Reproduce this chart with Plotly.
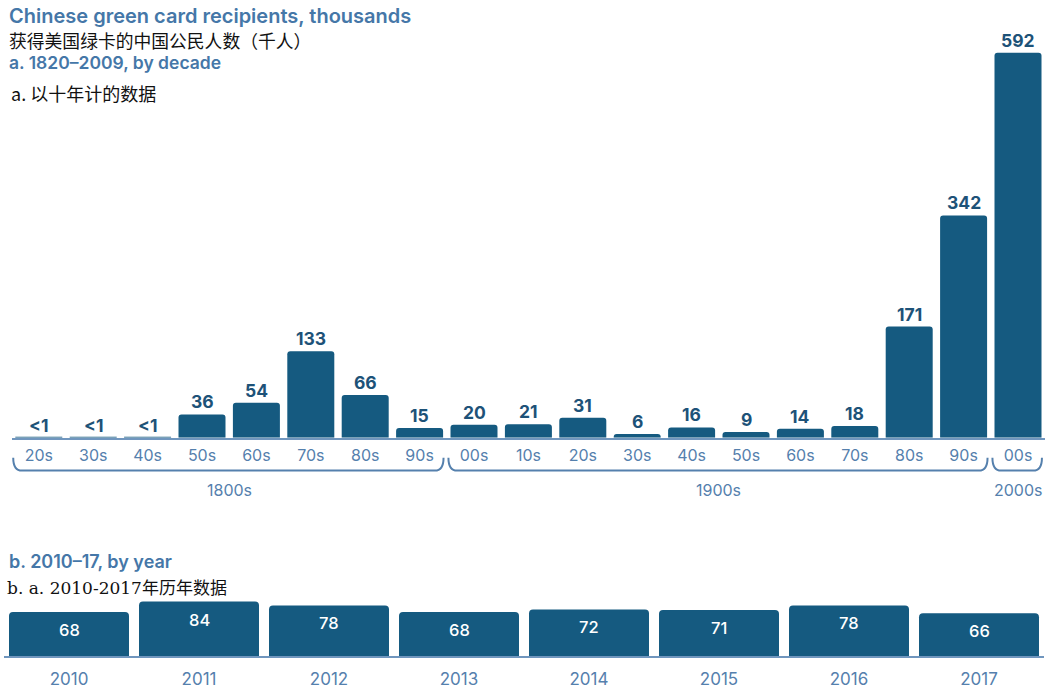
import plotly.graph_objects as go

# ---- data -------------------------------------------------------------
decades = ["20s", "30s", "40s", "50s", "60s", "70s", "80s", "90s",
           "00s", "10s", "20s", "30s", "40s", "50s", "60s", "70s", "80s", "90s",
           "00s"]
decade_values = [0.3, 0.3, 0.3, 36, 54, 133, 66, 15,
                 20, 21, 31, 6, 16, 9, 14, 18, 171, 342,
                 592]
decade_labels = ["<1", "<1", "<1", "36", "54", "133", "66", "15",
                 "20", "21", "31", "6", "16", "9", "14", "18", "171", "342",
                 "592"]
centuries = ["1800s", "1900s", "2000s"]
century_first = [0, 8, 18]
century_last = [7, 17, 18]

years = ["2010", "2011", "2012", "2013", "2014", "2015", "2016", "2017"]
year_values = [68, 84, 78, 68, 72, 71, 78, 66]

# ---- styling ----------------------------------------------------------
W, H = 1046, 689
BAR = "#155a80"
LABEL = "#1d5278"
HEAD = "#4577a8"
TICK = "#5580ad"
AXIS = "#7096be"
LATIN = "Inter, Lato, sans-serif"
CJK = "Noto Sans CJK SC"
PX_PER_UNIT = 0.655


def py(px):
    """Vertical pixel position -> paper fraction."""
    return 1 - px / H


def pxx(px):
    return px / W


top_base, top_ceiling = 441, 20
bot_base, bot_ceiling = 661, 560

fig = go.Figure()

fig.add_trace(go.Bar(
    x=list(range(len(decades))), y=decade_values,
    width=0.864, marker=dict(color=BAR, cornerradius=3, line=dict(width=0)),
    xaxis="x", yaxis="y", hoverinfo="skip", showlegend=False,
))
fig.add_trace(go.Bar(
    x=list(range(len(years))), y=year_values,
    width=0.923, marker=dict(color=BAR, cornerradius=4, line=dict(width=0)),
    xaxis="x2", yaxis="y2", hoverinfo="skip", showlegend=False,
))

annotations = []

# value labels above decade bars
for i, (v, t) in enumerate(zip(decade_values, decade_labels)):
    annotations.append(dict(
        x=i, y=v, xref="x", yref="y", text=t, showarrow=False,
        yanchor="bottom", yshift=0,
        font=dict(family=LATIN, size=17.5, color=LABEL, weight=700),
    ))

# value labels inside yearly bars
for i, v in enumerate(year_values):
    annotations.append(dict(
        x=i, y=v, xref="x2", yref="y2", text=str(v), showarrow=False,
        yanchor="middle", yshift=-18,
        font=dict(family=LATIN, size=16.5, color="white", weight=500),
    ))

# century brackets and their names
shapes = []
b_top, b_bot = py(461), py(474)
r = 0.16
for name, a, b in zip(centuries, century_first, century_last):
    x0, x1 = a - 0.47, b + 0.44
    path = (f"M {x0},{b_top} Q {x0},{b_bot} {x0 + r},{b_bot} "
            f"L {x1 - r},{b_bot} Q {x1},{b_bot} {x1},{b_top}")
    shapes.append(dict(type="path", path=path, xref="x", yref="paper",
                       line=dict(color=TICK, width=2)))
    annotations.append(dict(
        x=(a + b) / 2, y=py(494), xref="x", yref="paper", text=name,
        showarrow=False, yanchor="middle",
        font=dict(family=LATIN, size=16, color=TICK),
    ))

# headings
heads = [
    ("Chinese green card recipients, thousands", 8, 16, HEAD, LATIN, 20, 600),
    ("获得美国绿卡的中国公民人数（千人）", 8, 40, "#111111", CJK, 17.8, 400),
    ("a. 1820–2009, by decade", 8, 63, HEAD, LATIN, 17.5, 600),
    ("a. 以十年计的数据", 10, 94, "#111111", CJK, 18, 400),
    ("b. 2010–17, by year", 8, 566, HEAD, LATIN, 18, 600),
    ("b. a. 2010-2017年历年数据", 6, 592, "#111111",
     "DejaVu Serif, Noto Sans CJK SC", 17, 400),
]
for text, x, y, color, fam, size, weight in heads:
    annotations.append(dict(
        x=pxx(x), y=py(y), xref="paper", yref="paper", text=text,
        showarrow=False, xanchor="left", yanchor="middle", borderpad=0,
        font=dict(family=fam, size=size, color=color, weight=weight),
    ))

axis_common = dict(showgrid=False, zeroline=False, showline=True,
                   linecolor=AXIS, linewidth=2, ticks="", fixedrange=True)

fig.update_layout(
    width=W, height=H,
    margin=dict(l=0, r=0, t=0, b=0),
    paper_bgcolor="white", plot_bgcolor="white",
    xaxis=dict(domain=[pxx(11.6), pxx(1045.2)], range=[-0.5, 18.5],
               tickmode="array", tickvals=list(range(len(decades))),
               ticktext=decades, anchor="y",
               tickfont=dict(family=LATIN, size=16, color=TICK),
               ticklabelstandoff=2, **axis_common),
    yaxis=dict(domain=[py(top_base), py(top_ceiling)],
               range=[0, (top_base - top_ceiling) / PX_PER_UNIT],
               visible=False, fixedrange=True),
    xaxis2=dict(domain=[pxx(4), pxx(1044)], range=[-0.5, 7.5],
                tickmode="array", tickvals=list(range(len(years))),
                ticktext=years, anchor="y2",
                tickfont=dict(family=LATIN, size=17, color=TICK),
                ticklabelstandoff=6, **axis_common),
    yaxis2=dict(domain=[py(bot_base), py(bot_ceiling)],
                range=[0, (bot_base - bot_ceiling) / PX_PER_UNIT],
                visible=False, fixedrange=True),
    annotations=annotations,
    shapes=shapes,
)

fig.write_html("out.html")
